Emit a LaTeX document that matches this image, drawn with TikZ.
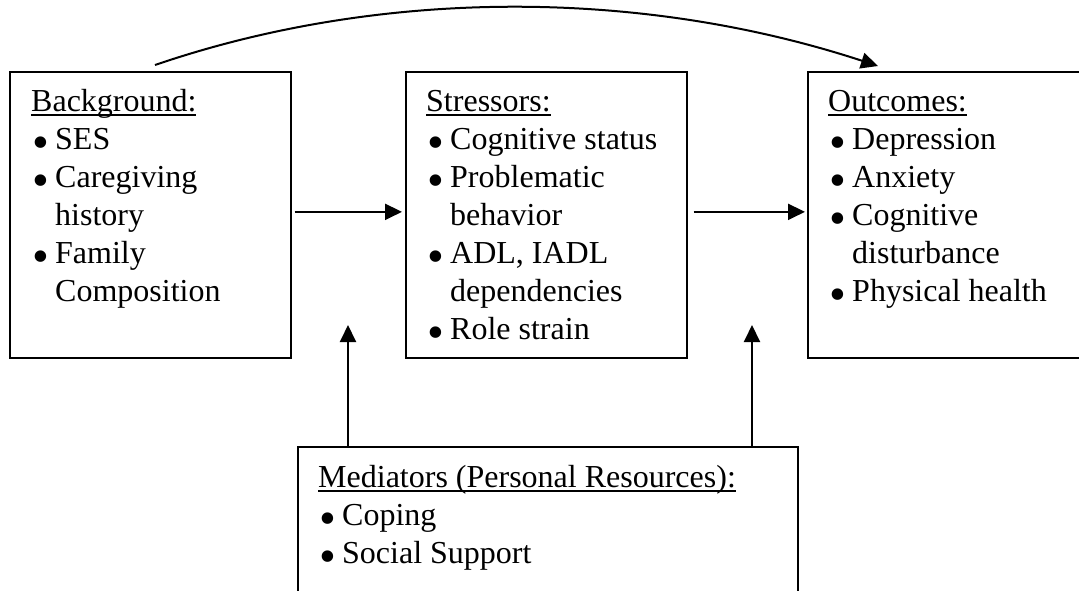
\documentclass[tikz,border=0pt]{standalone}
\usepackage{fontspec}
\setmainfont{Liberation Serif}
\usepackage{graphicx}
\usepackage{tikz}
\usetikzlibrary{arrows.meta, positioning, calc}

\newcommand{\headline}[1]{\setbox0\hbox{#1}\rlap{\rule[-4.5pt]{\wd0}{1.8pt}}\box0}
\newcommand{\itm}{\makebox[24pt][l]{\hspace{1pt}\raisebox{-9.5pt}{\scalebox{1.5}{\textbullet}}}}
\newcommand{\cnt}{\hspace*{24pt}}

\begin{document}
\begin{tikzpicture}[
  x=1pt, y=-1pt,
  frame/.style={draw, line width=1.7pt, inner sep=0pt, anchor=north west,
                minimum width=#1, minimum height=286pt},
  txt/.style={anchor=north west, inner sep=0pt, align=left,
              font=\fontsize{32}{38}\selectfont},
  arr/.style={-{Triangle[length=17pt, width=16pt]}, line width=2pt}
]
  \useasboundingbox (0,0) rectangle (1079,590);

  % boxes
  \node[frame=281pt] (bg) at (9,71) {};
  \node[frame=281pt] (st) at (405,71) {};
  \node[frame=283pt] (oc) at (807,71) {};
  \node[frame=500pt, minimum height=174pt] (med) at (297,446) {};

  % texts
  \node[txt] (bgtxt) at (31,84.4) {\strut\headline{Background:}\\
    \itm SES\\ \itm Caregiving\\ \cnt history\\ \itm Family\\ \cnt Composition};
  \node[txt] (sttxt) at (426,84.4) {\strut\headline{Stressors:}\\
    \itm Cognitive status\\ \itm Problematic\\ \cnt behavior\\
    \itm ADL, IADL\\ \cnt dependencies\\ \itm Role strain};
  \node[txt] (octxt) at (828,84.4) {\strut\headline{Outcomes:}\\
    \itm Depression\\ \itm Anxiety\\ \itm Cognitive\\ \cnt disturbance\\
    \itm Physical health};
  \node[txt] (medtxt) at (318,460.4) {\strut\headline{Mediators (Personal Resources):}\\
    \itm Coping\\ \itm Social Support};

  % connectors
  \coordinate (upL) at (348,325);
  \coordinate (upR) at (752,325);
  \coordinate (arcs) at (155,65);
  \coordinate (arce) at (878,66);

  \draw[arr, shorten <=3pt, shorten >=3pt] ([yshift=3pt]bg.east) -- ([yshift=3pt]st.west);
  \draw[arr, shorten <=6pt, shorten >=2pt] ([yshift=3pt]st.east) -- ([yshift=3pt]oc.west);
  \draw[arr] (med.north -| upL) -- (upL);
  \draw[arr] (med.north -| upR) -- (upR);
  \draw[arr] (arcs) .. controls (380,-12) and (640,-12) .. (arce);
\end{tikzpicture}
\end{document}
